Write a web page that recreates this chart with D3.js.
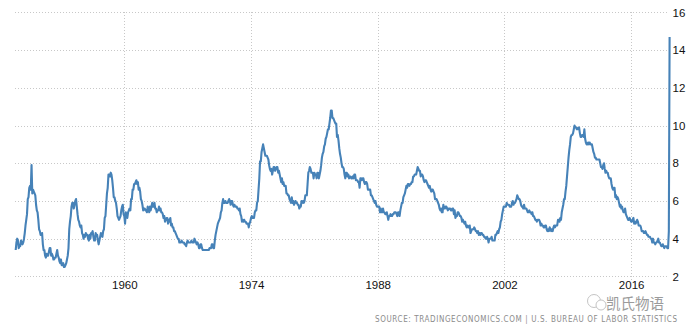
<!DOCTYPE html>
<html>
<head>
<meta charset="utf-8">
<script src="https://cdn.jsdelivr.net/npm/d3@7"></script>
<style>
  html, body { margin: 0; padding: 0; background: #fff; }
  svg { display: block; }
</style>
</head>
<body>
<svg id="chart" width="697" height="327"></svg>
<script>
// US unemployment rate, monthly, Jan 1948 - Apr 2020
const startYear = 1948;
const rates = [
  3.4,3.8,4.0,3.9,3.5,3.6,3.6,3.9,3.8,3.7,3.8,4.0,
  4.3,4.7,5.0,5.3,6.1,6.2,6.7,6.8,6.6,7.9,6.4,6.6,
  6.5,6.4,6.3,5.8,5.5,5.4,5.0,4.5,4.4,4.2,4.2,4.3,
  3.7,3.4,3.4,3.1,3.0,3.2,3.1,3.1,3.3,3.5,3.5,3.1,
  3.2,3.1,2.9,2.9,3.0,3.0,3.2,3.4,3.1,3.0,2.8,2.7,
  2.9,2.6,2.6,2.7,2.5,2.5,2.6,2.7,2.9,3.1,3.5,4.5,
  4.9,5.2,5.7,5.9,5.9,5.6,5.8,6.0,6.1,5.7,5.3,5.0,
  4.9,4.7,4.6,4.7,4.3,4.2,4.0,4.2,4.1,4.3,4.2,4.2,
  4.0,3.9,4.2,4.0,4.3,4.3,4.4,4.1,3.9,3.9,4.3,4.2,
  4.2,3.9,3.7,3.9,4.1,4.3,4.2,4.1,4.4,4.5,5.1,5.2,
  5.8,6.4,6.7,7.4,7.4,7.3,7.5,7.4,7.1,6.7,6.2,6.2,
  6.0,5.9,5.6,5.2,5.1,5.0,5.1,5.2,5.5,5.7,5.8,5.3,
  5.2,4.8,5.4,5.2,5.1,5.4,5.5,5.6,5.5,6.1,6.1,6.6,
  6.6,6.9,6.9,7.0,7.1,6.9,7.0,6.6,6.7,6.5,6.1,6.0,
  5.8,5.5,5.6,5.6,5.5,5.5,5.4,5.7,5.6,5.4,5.7,5.5,
  5.7,5.9,5.7,5.7,5.9,5.6,5.6,5.4,5.5,5.5,5.7,5.5,
  5.6,5.4,5.4,5.3,5.1,5.2,4.9,5.0,5.1,5.1,4.8,5.0,
  4.9,5.1,4.7,4.8,4.6,4.6,4.4,4.4,4.3,4.2,4.1,4.0,
  4.0,3.8,3.8,3.8,3.9,3.8,3.8,3.8,3.7,3.7,3.6,3.8,
  3.9,3.8,3.8,3.8,3.8,3.9,3.8,3.8,3.8,4.0,3.9,3.8,
  3.7,3.8,3.7,3.5,3.5,3.7,3.7,3.5,3.4,3.4,3.4,3.4,
  3.4,3.4,3.4,3.4,3.4,3.5,3.5,3.5,3.7,3.7,3.5,3.5,
  3.9,4.2,4.4,4.6,4.8,4.9,5.0,5.1,5.4,5.5,5.9,6.1,
  5.9,5.9,6.0,5.9,5.9,5.9,6.0,6.1,6.0,5.8,6.0,6.0,
  5.8,5.7,5.8,5.7,5.7,5.7,5.6,5.6,5.5,5.6,5.3,5.2,
  4.9,5.0,4.9,5.0,4.9,4.9,4.8,4.8,4.8,4.6,4.8,4.9,
  5.1,5.2,5.1,5.1,5.1,5.4,5.5,5.5,5.9,6.0,6.6,7.2,
  8.1,8.1,8.6,8.8,9.0,8.8,8.6,8.4,8.4,8.4,8.3,8.2,
  7.9,7.7,7.6,7.7,7.4,7.6,7.8,7.8,7.6,7.7,7.8,7.8,
  7.5,7.6,7.4,7.2,7.0,7.2,6.9,7.0,6.8,6.8,6.8,6.4,
  6.4,6.3,6.3,6.1,6.0,5.9,6.2,5.9,6.0,5.8,5.9,6.0,
  5.9,5.9,5.8,5.8,5.6,5.7,5.7,6.0,5.9,6.0,5.9,6.0,
  6.3,6.3,6.3,6.9,7.5,7.6,7.8,7.7,7.5,7.5,7.5,7.2,
  7.5,7.4,7.4,7.2,7.5,7.5,7.2,7.4,7.6,7.9,8.3,8.5,
  8.6,8.9,9.0,9.3,9.4,9.6,9.8,9.8,10.1,10.4,10.8,10.8,
  10.4,10.4,10.3,10.2,10.1,10.1,9.4,9.5,9.2,8.8,8.5,8.3,
  8.0,7.8,7.8,7.7,7.4,7.2,7.5,7.5,7.3,7.4,7.2,7.3,
  7.3,7.2,7.2,7.3,7.2,7.4,7.4,7.1,7.1,7.1,7.0,7.0,
  6.7,7.2,7.2,7.1,7.2,7.2,7.0,6.9,7.0,7.0,6.9,6.6,
  6.6,6.6,6.6,6.3,6.3,6.2,6.1,6.0,5.9,6.0,5.8,5.7,
  5.7,5.7,5.7,5.4,5.6,5.4,5.4,5.6,5.4,5.4,5.3,5.3,
  5.4,5.2,5.0,5.2,5.2,5.3,5.2,5.2,5.3,5.3,5.4,5.4,
  5.4,5.3,5.2,5.4,5.4,5.2,5.5,5.7,5.9,5.9,6.2,6.3,
  6.4,6.6,6.8,6.7,6.9,6.9,6.8,6.9,6.9,7.0,7.0,7.3,
  7.3,7.4,7.4,7.4,7.6,7.8,7.7,7.6,7.6,7.3,7.4,7.4,
  7.3,7.1,7.0,7.1,7.1,7.0,6.9,6.8,6.7,6.8,6.6,6.5,
  6.6,6.6,6.5,6.4,6.1,6.1,6.1,6.0,5.9,5.8,5.6,5.5,
  5.6,5.4,5.4,5.8,5.6,5.6,5.7,5.7,5.6,5.5,5.6,5.6,
  5.6,5.5,5.5,5.6,5.6,5.3,5.5,5.1,5.2,5.2,5.4,5.4,
  5.3,5.2,5.2,5.1,4.9,5.0,4.9,4.8,4.9,4.7,4.6,4.7,
  4.6,4.6,4.7,4.3,4.4,4.5,4.5,4.5,4.6,4.5,4.4,4.4,
  4.3,4.4,4.2,4.3,4.2,4.3,4.3,4.2,4.2,4.1,4.1,4.0,
  4.0,4.1,4.0,3.8,4.0,4.0,4.0,4.1,3.9,3.9,3.9,3.9,
  4.2,4.2,4.3,4.4,4.3,4.5,4.6,4.9,5.0,5.3,5.5,5.7,
  5.7,5.7,5.7,5.9,5.8,5.8,5.8,5.7,5.7,5.7,5.9,6.0,
  5.8,5.9,5.9,6.0,6.1,6.3,6.2,6.1,6.1,6.0,5.8,5.7,
  5.7,5.6,5.8,5.6,5.6,5.6,5.5,5.4,5.4,5.5,5.4,5.4,
  5.3,5.4,5.2,5.2,5.1,5.0,5.0,4.9,5.0,5.0,5.0,4.9,
  4.7,4.8,4.7,4.7,4.6,4.6,4.7,4.7,4.5,4.4,4.5,4.4,
  4.6,4.5,4.4,4.5,4.4,4.6,4.7,4.6,4.7,4.7,4.7,5.0,
  5.0,4.9,5.1,5.0,5.4,5.6,5.8,6.1,6.1,6.5,6.8,7.3,
  7.8,8.3,8.7,9.0,9.4,9.5,9.5,9.6,9.8,10.0,9.9,9.9,
  9.8,9.8,9.9,9.9,9.6,9.4,9.4,9.5,9.5,9.4,9.8,9.3,
  9.1,9.0,9.0,9.1,9.0,9.1,9.0,9.0,9.0,8.8,8.6,8.5,
  8.3,8.3,8.2,8.2,8.2,8.2,8.2,8.0,7.8,7.8,7.7,7.9,
  8.0,7.7,7.5,7.6,7.5,7.5,7.3,7.2,7.2,7.2,6.9,6.7,
  6.6,6.7,6.7,6.2,6.3,6.1,6.2,6.1,5.9,5.7,5.8,5.6,
  5.7,5.5,5.4,5.4,5.6,5.3,5.2,5.1,5.0,5.0,5.1,5.0,
  4.9,4.9,5.0,5.1,4.8,4.9,4.8,4.9,5.0,4.9,4.7,4.7,
  4.7,4.6,4.4,4.4,4.4,4.3,4.3,4.4,4.3,4.2,4.2,4.1,
  4.1,4.1,4.0,4.0,3.8,4.0,3.8,3.8,3.7,3.8,3.8,3.9,
  4.0,3.8,3.8,3.7,3.6,3.6,3.7,3.6,3.5,3.6,3.6,3.6,
  3.5,3.5,4.4,14.7
];
const xTickYears = [1960, 1974, 1988, 2002, 2016];
const yTicks = [2, 4, 6, 8, 10, 12, 14, 16];
const sourceText = "SOURCE: TRADINGECONOMICS.COM  |  U.S. BUREAU OF LABOR STATISTICS";
const watermarkText = "凯氏物语";

const data = rates.map((v, i) => ({ t: startYear + i / 12, v }));

const svg = d3.select("#chart");
const x = d3.scaleLinear().domain([1948, 2020.25]).range([15.7, 669.6]);
const y = d3.scaleLinear().domain([2, 16]).range([276.4, 12.4]);

const grid = svg.append("g");
grid.selectAll("line.h").data(yTicks).join("line")
  .attr("x1", 15).attr("x2", 668)
  .attr("y1", d => Math.round(y(d)) + 0.5).attr("y2", d => Math.round(y(d)) + 0.5)
  .attr("stroke", "#c8c8c8").attr("stroke-width", 1).attr("stroke-dasharray", "1,2");
grid.selectAll("line.v").data(xTickYears).join("line")
  .attr("x1", d => Math.round(x(d)) + 0.5).attr("x2", d => Math.round(x(d)) + 0.5)
  .attr("y1", 12).attr("y2", 280)
  .attr("stroke", "#c8c8c8").attr("stroke-width", 1).attr("stroke-dasharray", "1,2");

const xAxis = d3.axisBottom(x).tickValues(xTickYears).tickFormat(d3.format("d")).tickSize(0).tickPadding(0);
svg.append("g").attr("transform", "translate(0,281)").call(xAxis)
  .call(g => g.select(".domain").remove())
  .call(g => g.selectAll("text").attr("font-family", "'Liberation Sans', Arial, sans-serif")
      .attr("font-size", "11.5px").attr("fill", "#111").attr("dy", "0.71em"));

const yAxis = d3.axisRight(y).tickValues(yTicks).tickSize(0).tickPadding(0);
svg.append("g").attr("transform", "translate(672.5,0)").call(yAxis)
  .call(g => g.select(".domain").remove())
  .call(g => g.selectAll("text").attr("font-family", "'Liberation Sans', Arial, sans-serif")
      .attr("font-size", "11.5px").attr("fill", "#111"));

const line = d3.line().x(d => x(d.t)).y(d => y(d.v));
svg.append("path").datum(data)
  .attr("d", line).attr("fill", "none")
  .attr("stroke", "#4682b8").attr("stroke-width", 2.1).attr("stroke-linejoin", "round");

// watermark
const wm = svg.append("g").attr("opacity", 0.85);
wm.append("circle").attr("cx", 594).attr("cy", 301).attr("r", 6.5)
  .attr("fill", "none").attr("stroke", "#bbb").attr("stroke-width", 1);
wm.append("circle").attr("cx", 601).attr("cy", 305).attr("r", 5)
  .attr("fill", "#fff").attr("stroke", "#bbb").attr("stroke-width", 1);
wm.append("text").attr("x", 606).attr("y", 309)
  .attr("font-family", "'Noto Sans CJK SC', sans-serif").attr("font-size", "14.5px")
  .attr("fill", "#8a8a8a").text(watermarkText);

svg.append("text").attr("x", 677).attr("y", 321.5).attr("text-anchor", "end")
  .attr("font-family", "'DejaVu Sans Condensed', 'DejaVu Sans', sans-serif")
  .attr("font-size", "8px").attr("fill", "#8c8c8c")
  .attr("textLength", 302).attr("lengthAdjust", "spacing")
  .text(sourceText);
</script>
</body>
</html>
